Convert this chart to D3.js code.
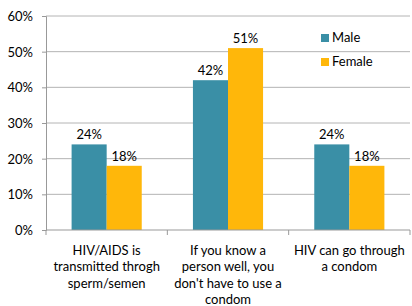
<!DOCTYPE html>
<html>
<head>
<meta charset="utf-8">
<script src="https://cdn.jsdelivr.net/npm/d3@7"></script>
<style>
  body { margin: 0; background: #fff; }
  svg text { font-family: Lato, "Open Sans", sans-serif; fill: #000; }
</style>
</head>
<body>
<svg id="chart" width="412" height="306"></svg>
<script>
// data
const categories = [
  ["HIV/AIDS is", "transmitted throgh", "sperm/semen"],
  ["If you know a", "person well, you", "don't have to use a", "condom"],
  ["HIV can go through", "a condom"]
];
const series = ["Male", "Female"];
const male = [24, 42, 24];
const female = [18, 51, 18];
const yTicks = [0, 10, 20, 30, 40, 50, 60];
const colors = { Male: "#3a8fa6", Female: "#ffb70a" };

var margin = { top: 16, right: 2, bottom: 76, left: 46 },
  width = 412 - margin.left - margin.right,
  height = 306 - margin.top - margin.bottom;

const svg = d3.select("#chart");
const g = svg.append("g").attr("transform", `translate(${margin.left},${margin.top})`);

let x0 = d3.scaleBand().domain(d3.range(categories.length)).range([0, width]).padding(0);
let x1 = d3.scaleBand().domain(series).range([0, x0.bandwidth()]).paddingInner(0).paddingOuter(0.73);
let y = d3.scaleLinear().domain([0, 60]).range([height, 0]);

// gridlines
g.selectAll(".grid")
  .data(yTicks.filter((d) => d > 0))
  .join("line")
  .attr("x1", 0)
  .attr("x2", width)
  .attr("y1", (d) => y(d))
  .attr("y2", (d) => y(d))
  .attr("stroke", "#b4b4b4")
  .attr("stroke-width", 1);

// y axis
const yAxis = g.append("g")
  .call(d3.axisLeft(y).tickValues(yTicks).tickFormat((d) => d + "%").tickSize(4).tickPadding(9));
yAxis.select(".domain").attr("stroke", "#999");
yAxis.selectAll(".tick line").attr("stroke", "#999");
yAxis.selectAll("text").attr("font-size", 13).attr("dy", "0.35em");

// bars
const rows = categories.map((c, i) => ({ i: i, Male: male[i], Female: female[i] }));
const groups = g.selectAll(".cat")
  .data(rows)
  .join("g")
  .attr("transform", (d) => `translate(${x0(d.i)},0)`);

groups.selectAll("rect")
  .data((d) => series.map((s) => ({ s: s, v: d[s] })))
  .join("rect")
  .attr("x", (d) => x1(d.s))
  .attr("y", (d) => y(d.v))
  .attr("width", x1.bandwidth())
  .attr("height", (d) => height - y(d.v))
  .attr("fill", (d) => colors[d.s]);

groups.selectAll(".lbl")
  .data((d) => series.map((s) => ({ s: s, v: d[s] })))
  .join("text")
  .attr("class", "lbl")
  .attr("x", (d) => x1(d.s) + x1.bandwidth() / 2)
  .attr("y", (d) => y(d.v) - 5)
  .attr("text-anchor", "middle")
  .attr("font-size", 13)
  .text((d) => d.v + "%");

// x axis
const xAxis = g.append("g").attr("transform", `translate(0,${height})`);
xAxis.append("line").attr("x1", 0).attr("x2", width).attr("stroke", "#999");
xAxis.selectAll(".xt")
  .data(d3.range(categories.length + 1))
  .join("line")
  .attr("x1", (d) => (d < categories.length ? x0(d) : width))
  .attr("x2", (d) => (d < categories.length ? x0(d) : width))
  .attr("y1", 0)
  .attr("y2", 5)
  .attr("stroke", "#999");

xAxis.selectAll(".xl")
  .data(categories)
  .join("text")
  .attr("text-anchor", "middle")
  .attr("font-size", 13)
  .attr("transform", (d, i) => `translate(${x0(i) + x0.bandwidth() / 2},25)`)
  .selectAll("tspan")
  .data((d) => d)
  .join("tspan")
  .attr("x", 0)
  .attr("y", (d, j) => j * 16.3)
  .text((d) => d);

// legend
const legend = svg.append("g").attr("transform", "translate(321,34)");
series.forEach((s, i) => {
  legend.append("rect")
    .attr("x", 0)
    .attr("y", i * 24)
    .attr("width", 8)
    .attr("height", 8)
    .attr("fill", colors[s]);
  legend.append("text")
    .attr("x", 11)
    .attr("y", i * 24 + 8)
    .attr("font-size", 13)
    .text(s);
});
</script>
</body>
</html>
